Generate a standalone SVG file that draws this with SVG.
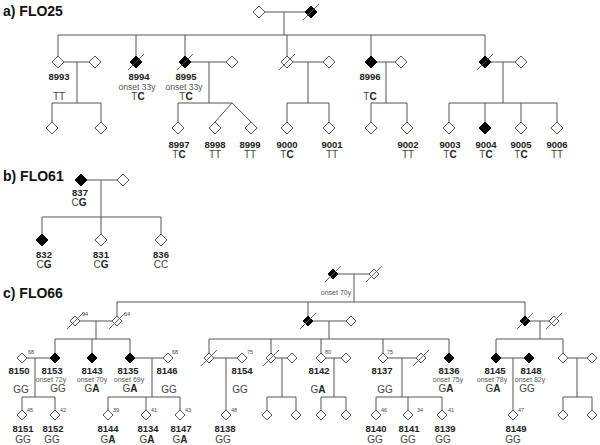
<svg xmlns="http://www.w3.org/2000/svg" xmlns:xlink="http://www.w3.org/1999/xlink" width="600" height="445" viewBox="0 0 600 445">
<style>
.ln{stroke:#555;stroke-width:1;fill:none}
.o{fill:#fff;stroke:#555;stroke-width:1}
.f{fill:#000;stroke:#000;stroke-width:1}
.sl{stroke:#555;stroke-width:0.9}
text{font-family:"Liberation Sans",Arial,sans-serif;text-anchor:middle}
.id{font-size:9.5px;font-weight:bold;fill:#222}
.gt{font-size:10px;fill:#444}
.b{font-weight:bold;fill:#222}
.on{font-size:8.5px;fill:#555}
.on2{font-size:7px;fill:#555}
.sup{font-size:5.5px;fill:#444;text-anchor:start}
.ttl{font-size:14px;font-weight:bold;fill:#111;text-anchor:start}
</style>
<defs>
<path id="d6" d="M0,-6L6,0L0,6L-6,0Z"/>
<path id="d5" d="M0,-5L5,0L0,5L-5,0Z"/>
<line id="s" x1="-8" y1="8" x2="8" y2="-8"/>
</defs>

<text class="ttl" x="3" y="16">a) FLO25</text>
<text class="ttl" x="3" y="181">b) FLO61</text>
<text class="ttl" x="3" y="298">c) FLO66</text>

<g id="connectors" class="ln">
<path d="M265,12H305M284,12V35M58,35H485M58,35V56M136,35V56M185,35V56M287,35V56M371,35V56M485,35V56"/>
<path d="M64,62H89M77,62V103M52,103H101M52,103V122M101,103V122"/>
<path d="M191,62H226M209,62V103M178,103H232M178,103V122M232,103L215,122M232,103L251,122"/>
<path d="M293,62H323M308,62V103M287,103H329M287,103V122M329,103V122"/>
<path d="M377,62H395M386,62V103M371,103H407M371,103V122M407,103V122"/>
<path d="M491,62H515M503,62V103M449,103H557M449,103V122M485,103V122M521,103V122M557,103V122"/>
<path d="M87,180H117M101,180V234M42,217H161M42,217V234M161,217V234"/>
<path d="M338,274H369M354,274V302M117,302H525M117,302V316M308,302V316M525,302V316"/>
<path d="M80,321H112M96,321V339M55,339H130M55,339V353M92,339V353M130,339V353"/>
<path d="M27,358H50M35,358V397M22,397H55M22,397V410M55,397V410"/>
<path d="M135,358H163M152,358V397M108,397H180M108,397V410M146,397V410M180,397V410"/>
<path d="M313,321H346M329,321V339M209,339H449M209,339V353M271,339V353M321,339V353M383,339V353M449,339V353"/>
<path d="M214,358H237M226,358V410"/>
<path d="M276,358H287M282,358V397M267,397H296M267,397V410M296,397V410"/>
<path d="M326,358H341M334,358V397M321,397H346M321,397V410M346,397V410"/>
<path d="M388,358H416M402,358V397M376,397H442M376,397V410M408,397V410M442,397V410"/>
<path d="M530,321H549M540,321V339M496,339H563M496,339V353M563,339V353"/>
<path d="M501,358H524M513,358V410"/>
<path d="M568,358H587M577,358V397M563,397H592M563,397V410M592,397V410"/>
</g>

<g id="a_gp1"><use href="#d6" x="259" y="12" class="o"/></g>
<g id="a_gp2"><use href="#d6" x="311" y="12" class="f"/><use href="#s" x="311" y="12" class="sl"/></g>
<g id="n8993"><use href="#d6" x="58" y="62" class="o"/><text class="id" x="59" y="80">8993</text><text class="gt" x="59" y="100">TT</text></g>
<g id="a_sp1"><use href="#d6" x="95" y="62" class="o"/></g>
<g id="a_c1"><use href="#d6" x="52" y="128" class="o"/></g>
<g id="a_c2"><use href="#d6" x="101" y="128" class="o"/></g>
<g id="n8994"><use href="#d6" x="136" y="62" class="f"/><use href="#s" x="136" y="62" class="sl"/><text class="id" x="139" y="80">8994</text><text class="on" x="137" y="90">onset 33y</text><text class="gt" x="138" y="100">T<tspan class="b">C</tspan></text></g>
<g id="n8995"><use href="#d6" x="185" y="62" class="f"/><use href="#s" x="185" y="62" class="sl"/><text class="id" x="186" y="80">8995</text><text class="on" x="184" y="90">onset 33y</text><text class="gt" x="186" y="100">T<tspan class="b">C</tspan></text></g>
<g id="a_sp2"><use href="#d6" x="232" y="62" class="o"/></g>
<g id="n8997"><use href="#d6" x="178" y="128" class="o"/><text class="id" x="179" y="148">8997</text><text class="gt" x="179" y="158">T<tspan class="b">C</tspan></text></g>
<g id="n8998"><use href="#d6" x="215" y="128" class="o"/><text class="id" x="215" y="148">8998</text><text class="gt" x="215" y="158">TT</text></g>
<g id="n8999"><use href="#d6" x="251" y="128" class="o"/><text class="id" x="250" y="148">8999</text><text class="gt" x="250" y="158">TT</text></g>
<g id="a_d1"><use href="#d6" x="287" y="62" class="o"/><use href="#s" x="287" y="62" class="sl"/></g>
<g id="a_sp3"><use href="#d6" x="329" y="62" class="o"/></g>
<g id="n9000"><use href="#d6" x="287" y="128" class="o"/><text class="id" x="287" y="148">9000</text><text class="gt" x="287" y="158">T<tspan class="b">C</tspan></text></g>
<g id="n9001"><use href="#d6" x="329" y="128" class="o"/><text class="id" x="332" y="148">9001</text><text class="gt" x="332" y="158">TT</text></g>
<g id="n8996"><use href="#d6" x="371" y="62" class="f"/><text class="id" x="370" y="80">8996</text><text class="gt" x="370" y="100">T<tspan class="b">C</tspan></text></g>
<g id="a_sp4"><use href="#d6" x="401" y="62" class="o"/></g>
<g id="a_c3"><use href="#d6" x="371" y="128" class="o"/></g>
<g id="n9002"><use href="#d6" x="407" y="128" class="o"/><text class="id" x="408" y="148">9002</text><text class="gt" x="408" y="158">TT</text></g>
<g id="a_d2"><use href="#d6" x="485" y="62" class="f"/><use href="#s" x="485" y="62" class="sl"/></g>
<g id="a_sp5"><use href="#d6" x="521" y="62" class="o"/></g>
<g id="n9003"><use href="#d6" x="449" y="128" class="o"/><text class="id" x="450" y="148">9003</text><text class="gt" x="450" y="158">T<tspan class="b">C</tspan></text></g>
<g id="n9004"><use href="#d6" x="485" y="128" class="f"/><text class="id" x="486" y="148">9004</text><text class="gt" x="486" y="158">T<tspan class="b">C</tspan></text></g>
<g id="n9005"><use href="#d6" x="521" y="128" class="o"/><text class="id" x="521" y="148">9005</text><text class="gt" x="521" y="158">T<tspan class="b">C</tspan></text></g>
<g id="n9006"><use href="#d6" x="557" y="128" class="o"/><text class="id" x="557" y="148">9006</text><text class="gt" x="557" y="158">TT</text></g>

<g id="n837"><use href="#d6" x="81" y="180" class="f"/><text class="id" x="80" y="196">837</text><text class="gt" x="79" y="206">C<tspan class="b">G</tspan></text></g>
<g id="b_sp"><use href="#d6" x="123" y="180" class="o"/></g>
<g id="n832"><use href="#d6" x="42" y="240" class="f"/><text class="id" x="44" y="258">832</text><text class="gt" x="44" y="268">C<tspan class="b">G</tspan></text></g>
<g id="n831"><use href="#d6" x="101" y="240" class="o"/><text class="id" x="101" y="258">831</text><text class="gt" x="101" y="268">C<tspan class="b">G</tspan></text></g>
<g id="n836"><use href="#d6" x="161" y="240" class="o"/><text class="id" x="161" y="258">836</text><text class="gt" x="161" y="268">CC</text></g>

<g id="c_gp1"><use href="#d5" x="333" y="274" class="f"/><use href="#s" x="333" y="274" class="sl"/><text class="on2" x="336" y="295">onset 70y</text></g>
<g id="c_gp2"><use href="#d5" x="374" y="274" class="o"/><use href="#s" x="374" y="274" class="sl"/></g>
<g id="c_l1"><use href="#d5" x="75" y="321" class="o"/><use href="#s" x="75" y="321" class="sl"/><text class="sup" x="82" y="316">94</text></g>
<g id="c_l2"><use href="#d5" x="117" y="321" class="o"/><use href="#s" x="117" y="321" class="sl"/><text class="sup" x="124" y="316">64</text></g>
<g id="n8150"><use href="#d5" x="22" y="358" class="o"/><text class="sup" x="28" y="354">68</text><text class="id" x="19" y="374">8150</text><text class="gt" x="21" y="393">GG</text></g>
<g id="n8153"><use href="#d5" x="55" y="358" class="f"/><text class="id" x="52" y="374">8153</text><text class="on2" x="51" y="382">onset 72y</text><text class="gt" x="58" y="392">GG</text></g>
<g id="n8143"><use href="#d5" x="92" y="358" class="f"/><text class="id" x="92" y="374">8143</text><text class="on2" x="92" y="382">onset 70y</text><text class="gt" x="92" y="392">G<tspan class="b">A</tspan></text></g>
<g id="n8135"><use href="#d5" x="130" y="358" class="f"/><text class="id" x="128" y="374">8135</text><text class="on2" x="129" y="382">onset 69y</text><text class="gt" x="130" y="392">G<tspan class="b">A</tspan></text></g>
<g id="n8146"><use href="#d5" x="168" y="358" class="o"/><text class="sup" x="172" y="354">68</text><text class="id" x="167" y="374">8146</text><text class="gt" x="169" y="393">GG</text></g>
<g id="n8151"><use href="#d5" x="22" y="415" class="o"/><text class="sup" x="27" y="412">45</text><text class="id" x="23" y="432">8151</text><text class="gt" x="23" y="443">GG</text></g>
<g id="n8152"><use href="#d5" x="55" y="415" class="o"/><text class="sup" x="60" y="412">42</text><text class="id" x="53" y="432">8152</text><text class="gt" x="52" y="443">GG</text></g>
<g id="n8144"><use href="#d5" x="108" y="415" class="o"/><text class="sup" x="113" y="412">39</text><text class="id" x="108" y="432">8144</text><text class="gt" x="108" y="443">G<tspan class="b">A</tspan></text></g>
<g id="n8134"><use href="#d5" x="146" y="415" class="o"/><text class="sup" x="151" y="412">41</text><text class="id" x="148" y="432">8134</text><text class="gt" x="147" y="443">G<tspan class="b">A</tspan></text></g>
<g id="n8147"><use href="#d5" x="180" y="415" class="o"/><text class="sup" x="185" y="412">43</text><text class="id" x="181" y="432">8147</text><text class="gt" x="180" y="443">G<tspan class="b">A</tspan></text></g>

<g id="c_m1"><use href="#d5" x="308" y="321" class="f"/><use href="#s" x="308" y="321" class="sl"/></g>
<g id="c_m2"><use href="#d5" x="351" y="321" class="o"/></g>
<g id="c_m3"><use href="#d5" x="209" y="358" class="o"/><use href="#s" x="209" y="358" class="sl"/></g>
<g id="n8154"><use href="#d5" x="242" y="358" class="o"/><text class="sup" x="247" y="354">75</text><text class="id" x="242" y="374">8154</text><text class="gt" x="240" y="393">GG</text></g>
<g id="n8138"><use href="#d5" x="226" y="415" class="o"/><text class="sup" x="231" y="412">48</text><text class="id" x="225" y="432">8138</text><text class="gt" x="223" y="443">GG</text></g>
<g id="c_m4"><use href="#d5" x="271" y="358" class="o"/><use href="#s" x="271" y="358" class="sl"/></g>
<g id="c_m5"><use href="#d5" x="292" y="358" class="o"/></g>
<g id="c_m6"><use href="#d5" x="267" y="415" class="o"/></g>
<g id="c_m7"><use href="#d5" x="296" y="415" class="o"/></g>
<g id="n8142"><use href="#d5" x="321" y="358" class="o"/><text class="sup" x="325" y="354">80</text><text class="id" x="319" y="374">8142</text><text class="gt" x="318" y="393">G<tspan class="b">A</tspan></text></g>
<g id="c_m8"><use href="#d5" x="346" y="358" class="o"/></g>
<g id="c_m9"><use href="#d5" x="321" y="415" class="o"/></g>
<g id="c_m10"><use href="#d5" x="346" y="415" class="o"/></g>
<g id="n8137"><use href="#d5" x="383" y="358" class="o"/><text class="sup" x="387" y="354">75</text><text class="id" x="382" y="374">8137</text><text class="gt" x="385" y="393">GG</text></g>
<g id="c_m11"><use href="#d5" x="421" y="358" class="o"/><use href="#s" x="421" y="358" class="sl"/></g>
<g id="n8140"><use href="#d5" x="376" y="415" class="o"/><text class="sup" x="381" y="412">46</text><text class="id" x="376" y="432">8140</text><text class="gt" x="375" y="443">GG</text></g>
<g id="n8141"><use href="#d5" x="408" y="415" class="o"/><text class="sup" x="417" y="412">34</text><text class="id" x="409" y="432">8141</text><text class="gt" x="408" y="443">GG</text></g>
<g id="n8139"><use href="#d5" x="442" y="415" class="o"/><text class="sup" x="448" y="412">41</text><text class="id" x="445" y="432">8139</text><text class="gt" x="443" y="443">GG</text></g>
<g id="n8136"><use href="#d5" x="449" y="358" class="f"/><text class="id" x="449" y="374">8136</text><text class="on2" x="448" y="382">onset 75y</text><text class="gt" x="446" y="392">G<tspan class="b">A</tspan></text></g>

<g id="c_r1"><use href="#d5" x="525" y="321" class="f"/><use href="#s" x="525" y="321" class="sl"/></g>
<g id="c_r2"><use href="#d5" x="554" y="321" class="o"/><use href="#s" x="554" y="321" class="sl"/></g>
<g id="n8145"><use href="#d5" x="496" y="358" class="f"/><text class="id" x="495" y="374">8145</text><text class="on2" x="492" y="382">onset 78y</text><text class="gt" x="493" y="392">G<tspan class="b">A</tspan></text></g>
<g id="n8148"><use href="#d5" x="529" y="358" class="f"/><text class="id" x="531" y="374">8148</text><text class="on2" x="530" y="382">onset 82y</text><text class="gt" x="527" y="392">GG</text></g>
<g id="n8149"><use href="#d5" x="513" y="415" class="o"/><text class="sup" x="518" y="412">47</text><text class="id" x="516" y="432">8149</text><text class="gt" x="513" y="443">GG</text></g>
<g id="c_r3"><use href="#d5" x="563" y="358" class="o"/></g>
<g id="c_r4"><use href="#d5" x="592" y="358" class="o"/></g>
<g id="c_r5"><use href="#d5" x="563" y="415" class="o"/></g>
<g id="c_r6"><use href="#d5" x="592" y="415" class="o"/></g>
</svg>
